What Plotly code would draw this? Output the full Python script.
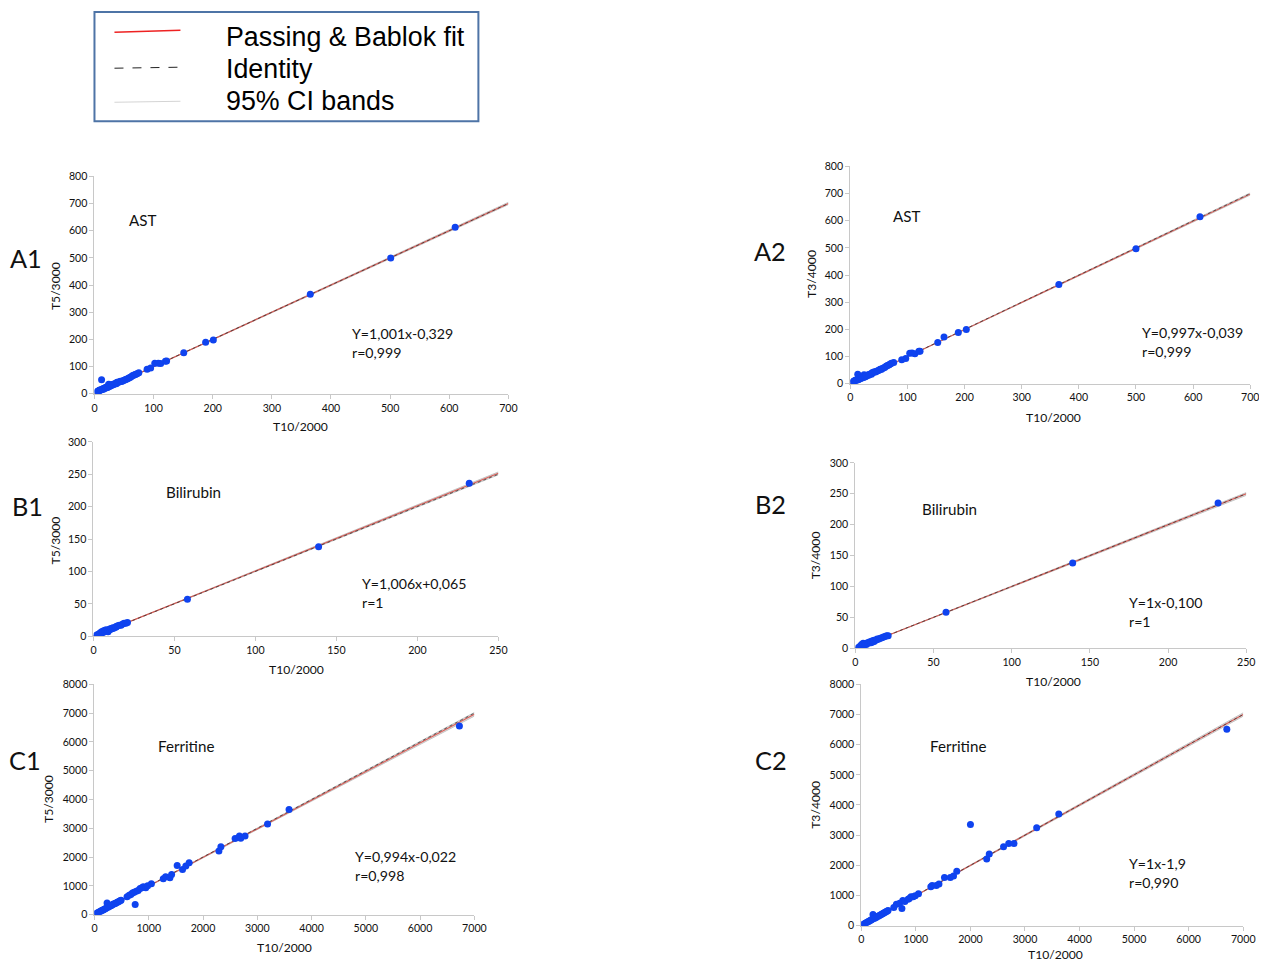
import plotly.graph_objects as go

W, H = 1267, 963          # reference canvas
OFF = 8                   # default page margin around the figure
# measured page->screenshot mapping of the capture (scale, shift)
AX, BX = 0.9885, 2.6
AY, BY = 0.986, 6.0
FW, FH = 1282, 975

# ---------------- data ----------------
ast1_x = [5, 6, 7, 8, 8, 9, 10, 11, 12, 13,
          14, 15, 16, 17, 18, 19, 20, 21, 22, 23,
          24, 25, 26, 27, 28, 29, 30, 32, 33, 35,
          37, 38, 40, 42, 44, 46, 48, 50, 52, 54,
          56, 58, 60, 62, 64, 66, 68, 70, 72, 75,
          89, 95, 102, 108, 112, 120, 122, 151, 188, 201,
          365, 501, 610]
ast1_y = [8, 10, 9, 12, 11, 14, 13, 15, 52, 16,
          18, 17, 20, 19, 22, 21, 24, 26, 23, 25,
          35, 27, 30, 29, 32, 31, 34, 33, 36, 38,
          37, 42, 41, 44, 46, 45, 48, 50, 52, 53,
          55, 58, 60, 63, 66, 68, 70, 72, 74, 77,
          90, 95, 112, 112, 111, 120, 121, 151, 190, 198,
          366, 500, 613]

ast2_x = [5, 6, 7, 8, 9, 10, 11, 12, 13, 14,
          15, 16, 17, 18, 19, 20, 21, 22, 23, 24,
          25, 26, 27, 28, 29, 30, 32, 33, 35, 37,
          38, 40, 42, 44, 46, 48, 50, 52, 54, 56,
          58, 60, 62, 64, 66, 68, 70, 72, 76, 90,
          97, 104, 108, 113, 120, 122, 153, 164, 189, 203,
          365, 500, 612]
ast2_y = [7, 9, 10, 12, 11, 14, 13, 16, 35, 15,
          18, 17, 20, 19, 22, 21, 24, 26, 23, 33,
          25, 28, 27, 30, 29, 32, 31, 34, 36, 35,
          40, 41, 44, 43, 46, 48, 50, 53, 52, 56,
          58, 60, 63, 66, 68, 70, 73, 75, 78, 88,
          93, 112, 113, 110, 120, 120, 152, 172, 189, 200,
          365, 497, 615]

bili1_x = [2, 3, 3, 4, 4, 5, 5, 6, 6, 7,
           7, 8, 8, 9, 9, 10, 10, 11, 11, 12,
           12, 13, 14, 14, 15, 16, 17, 18, 19, 20,
           21, 58, 139, 232]
bili1_y = [2, 1, 3, 5, 3, 7, 4, 6, 8, 7,
           9, 8, 10, 9, 7, 10, 11, 11, 12, 12,
           13, 13, 14, 15, 16, 17, 17, 19, 20, 20,
           21, 57, 138, 236]

bili2_x = [2, 3, 3, 4, 4, 5, 5, 6, 6, 7,
           7, 8, 8, 9, 9, 10, 10, 11, 11, 12,
           12, 13, 14, 14, 15, 16, 17, 18, 19, 20,
           21, 58, 139, 232]
bili2_y = [1, 3, 2, 4, 6, 5, 8, 6, 7, 8,
           6, 9, 8, 10, 9, 9, 11, 10, 12, 11,
           13, 13, 14, 15, 15, 16, 17, 18, 19, 20,
           20, 58, 138, 235]

ferr1_x = [20, 40, 60, 80, 100, 120, 140, 160, 180, 200,
           220, 232, 250, 270, 290, 310, 330, 350, 370, 390,
           410, 430, 450, 470, 490, 600, 640, 670, 700, 730,
           750, 770, 805, 840, 872, 900, 945, 980, 1049, 1268,
           1311, 1390, 1421, 1524, 1622, 1683, 1744, 2293, 2329, 2591,
           2671, 2695, 2774, 3189, 3585, 6724]
ferr1_y = [25, 45, 70, 85, 110, 125, 150, 165, 190, 205,
           230, 407, 260, 280, 300, 320, 340, 370, 380, 400,
           420, 440, 460, 480, 500, 620, 674, 700, 756, 780,
           350, 814, 840, 907, 930, 965, 930, 1000, 1070, 1244,
           1314, 1279, 1395, 1709, 1570, 1686, 1802, 2209, 2360, 2640,
           2733, 2651, 2733, 3151, 3651, 6550]

ferr2_x = [20, 40, 60, 80, 100, 120, 140, 160, 180, 200,
           214, 230, 250, 270, 290, 310, 330, 350, 370, 390,
           410, 430, 450, 470, 490, 595, 643, 702, 744, 760,
           798, 857, 880, 911, 950, 988, 1048, 1274, 1298, 1375,
           1423, 1524, 1631, 1690, 1750, 2000, 2298, 2345, 2607, 2702,
           2798, 3214, 3619, 6699]
ferr2_y = [20, 45, 60, 90, 105, 130, 145, 170, 185, 210,
           374, 235, 255, 275, 300, 315, 340, 355, 380, 395,
           420, 435, 460, 475, 500, 600, 714, 747, 571, 835,
           800, 879, 900, 956, 956, 989, 1055, 1286, 1330, 1330,
           1385, 1593, 1593, 1648, 1802, 3352, 2209, 2374, 2615, 2725,
           2725, 3242, 3703, 6506]

panel_ids = ["A1", "A2", "B1", "B2", "C1", "C2"]
analytes = ["AST", "AST", "Bilirubin", "Bilirubin", "Ferritine", "Ferritine"]
x_titles = ["T10/2000"] * 6
y_titles = ["T5/3000", "T3/4000", "T5/3000", "T3/4000", "T5/3000", "T3/4000"]
equations = ["Y=1,001x-0,329", "Y=0,997x-0,039", "Y=1,006x+0,065",
             "Y=1x-0,100", "Y=0,994x-0,022", "Y=1x-1,9"]
r_texts = ["r=0,999", "r=0,999", "r=1", "r=1", "r=0,998", "r=0,990"]
fit_slope = [1.001, 0.997, 1.006, 1.0, 0.994, 1.0]
fit_intercept = [-0.329, -0.039, 0.065, -0.100, -0.022, -1.9]
ci_slope_lo = [0.995, 0.992, 0.996, 0.990, 0.985, 0.992]
ci_slope_hi = [1.007, 1.003, 1.014, 1.008, 1.003, 1.008]
x_max = [700, 700, 250, 250, 7000, 7000]
y_max = [800, 800, 300, 300, 8000, 8000]
x_dtick = [100, 100, 50, 50, 1000, 1000]
y_dtick = [100, 100, 50, 50, 1000, 1000]
xs = [ast1_x, ast2_x, bili1_x, bili2_x, ferr1_x, ferr2_x]
ys = [ast1_y, ast2_y, bili1_y, bili2_y, ferr1_y, ferr2_y]

# ---------------- layout geometry (reference pixels) ----------------
boxes = [(94, 508, 176, 393), (850, 1250, 166, 383),
         (93, 498, 441, 635), (855, 1246, 462, 647),
         (94, 474, 683, 913), (861, 1243, 683, 924)]
panel_lbl_pos = [(26, 257), (770, 250), (27, 505), (770, 503), (25, 759), (771, 759)]
analyte_pos = [(142, 220), (906, 216), (193, 491), (949, 508), (186, 745), (958, 745)]
eq_pos = [(350, 333), (1140, 332), (360, 582), (1127, 601), (353, 855), (1127, 862)]
xt_pos = [(300, 426), (1053, 417), (296, 668), (1053, 680), (284, 946), (1055, 953)]
yt_pos = [(55, 285), (811, 273), (55, 539), (815, 554), (48, 797), (815, 803)]


def px(x):
    return ((x - BX) / AX - OFF) / FW


def py(y):
    return 1 - ((y - BY) / AY - OFF) / FH


def fs(s):
    return s / AX


FONT = "Lato, 'Open Sans', sans-serif"
MARKER = "#0f43ef"

fig = go.Figure()
layout = dict(
    width=FW, height=FH, margin=dict(l=0, r=0, t=0, b=0),
    paper_bgcolor="white", plot_bgcolor="white", showlegend=False,
    font=dict(family=FONT, color="#222"),
)
annotations = []
shapes = []

for i in range(6):
    k = "" if i == 0 else str(i + 1)
    xa, ya = "x" + k, "y" + k
    l, r, t, b = boxes[i]
    ax_common = dict(showgrid=False, zeroline=False, showline=True,
                     linecolor="#c8c8c8", linewidth=1, ticks="outside",
                     ticklen=4, tickcolor="#c8c8c8",
                     tickfont=dict(size=fs(10.5), color="#111", family=FONT))
    layout["xaxis" + k] = dict(domain=[px(l), px(r)], range=[0, x_max[i]],
                               tick0=0, dtick=x_dtick[i], anchor=ya, **ax_common)
    layout["yaxis" + k] = dict(domain=[py(b), py(t)], range=[0, y_max[i]],
                               tick0=0, dtick=y_dtick[i], anchor=xa, **ax_common)
    line_x = [0, x_max[i]]
    lo = [ci_slope_lo[i] * v + fit_intercept[i] for v in line_x]
    hi = [ci_slope_hi[i] * v + fit_intercept[i] for v in line_x]
    fit = [fit_slope[i] * v + fit_intercept[i] for v in line_x]
    fig.add_trace(go.Scatter(x=line_x, y=lo, mode="lines",
                             line=dict(color="#c4c4c4", width=1),
                             xaxis=xa, yaxis=ya, hoverinfo="skip"))
    fig.add_trace(go.Scatter(x=line_x, y=hi, mode="lines", fill="tonexty",
                             fillcolor="rgba(200,200,200,0.6)",
                             line=dict(color="#c4c4c4", width=1),
                             xaxis=xa, yaxis=ya, hoverinfo="skip"))
    fig.add_trace(go.Scatter(x=line_x, y=fit, mode="lines",
                             line=dict(color="rgba(220,50,40,0.75)", width=1.1),
                             xaxis=xa, yaxis=ya, hoverinfo="skip"))
    fig.add_trace(go.Scatter(x=line_x, y=line_x, mode="lines",
                             line=dict(color="rgba(40,40,40,0.7)", width=1, dash="dot"),
                             xaxis=xa, yaxis=ya, hoverinfo="skip"))
    fig.add_trace(go.Scatter(x=xs[i], y=ys[i], mode="markers",
                             marker=dict(color=MARKER, size=7),
                             xaxis=xa, yaxis=ya))

    annotations.append(dict(x=px(panel_lbl_pos[i][0]), y=py(panel_lbl_pos[i][1]),
                            xref="paper", yref="paper", text=panel_ids[i],
                            showarrow=False, xanchor="center", yanchor="middle",
                            font=dict(size=fs(25), color="#111", family=FONT)))
    annotations.append(dict(x=px(analyte_pos[i][0]), y=py(analyte_pos[i][1]),
                            xref="paper", yref="paper", text=analytes[i],
                            showarrow=False, xanchor="center", yanchor="middle",
                            font=dict(size=fs(15), color="#111", family=FONT)))
    annotations.append(dict(x=px(eq_pos[i][0]), y=py(eq_pos[i][1]),
                            xref="paper", yref="paper", text=equations[i],
                            showarrow=False, xanchor="left", yanchor="middle",
                            font=dict(size=fs(14), color="#111", family=FONT)))
    annotations.append(dict(x=px(eq_pos[i][0]), y=py(eq_pos[i][1] + 19),
                            xref="paper", yref="paper", text=r_texts[i],
                            showarrow=False, xanchor="left", yanchor="middle",
                            font=dict(size=fs(14), color="#111", family=FONT)))
    annotations.append(dict(x=px(xt_pos[i][0]), y=py(xt_pos[i][1]),
                            xref="paper", yref="paper", text=x_titles[i],
                            showarrow=False, xanchor="center", yanchor="middle",
                            font=dict(size=fs(12), color="#111", family=FONT)))
    annotations.append(dict(x=px(yt_pos[i][0]), y=py(yt_pos[i][1]),
                            xref="paper", yref="paper", text=y_titles[i],
                            showarrow=False, xanchor="center", yanchor="middle",
                            textangle=-90,
                            font=dict(size=fs(12), color="#111", family=FONT)))

# ---------------- legend box ----------------
legend_labels = ["Passing & Bablok fit", "Identity", "95% CI bands"]
legend_y = [37, 69, 101]
shapes.append(dict(type="rect", xref="paper", yref="paper",
                   x0=px(94), x1=px(478), y0=py(12), y1=py(121),
                   line=dict(color="#4e74a6", width=2), fillcolor="white"))
shapes.append(dict(type="line", xref="paper", yref="paper",
                   x0=px(114), x1=px(180), y0=py(32), y1=py(30),
                   line=dict(color="#ee2222", width=1.5)))
shapes.append(dict(type="line", xref="paper", yref="paper",
                   x0=px(114), x1=px(180), y0=py(68), y1=py(67),
                   line=dict(color="#222", width=1, dash="dash")))
shapes.append(dict(type="line", xref="paper", yref="paper",
                   x0=px(114), x1=px(180), y0=py(102), y1=py(101),
                   line=dict(color="#d4d4d4", width=1.2)))
for lbl, ly in zip(legend_labels, legend_y):
    annotations.append(dict(x=px(224), y=py(ly), xref="paper", yref="paper",
                            text=lbl, showarrow=False, xanchor="left",
                            yanchor="middle",
                            font=dict(size=fs(26.5), color="#000",
                                      family="Liberation Sans, Arial, sans-serif")))

layout["annotations"] = annotations
layout["shapes"] = shapes
fig.update_layout(**layout)
fig.write_html("out.html", config={"displayModeBar": False})
